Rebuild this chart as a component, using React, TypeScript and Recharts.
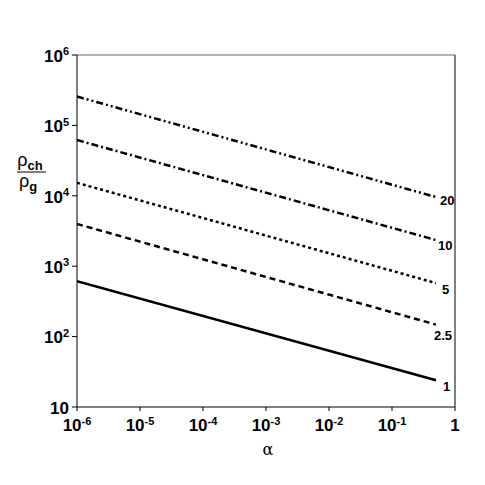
import React from 'react';
import { LineChart, Line, XAxis, YAxis, ReferenceLine } from 'recharts';

// alpha values at the two ends of each (straight on log-log) line
const alphaPoints = [1e-6, 0.5];
// rho_ch / rho_g for each parameter value
const series1 = [611, 24];
const series25 = [3980, 148];
const series5 = [15300, 575];
const series10 = [62000, 2350];
const series20 = [257000, 9600];
const seriesNames = ['1', '2.5', '5', '10', '20'];

const xTicks = [1e-6, 1e-5, 1e-4, 1e-3, 1e-2, 1e-1, 1];
const yTicks = [10, 100, 1000, 10000, 100000, 1000000];

const allSeries = [series1, series25, series5, series10, series20];
const keys = ['s1', 's25', 's5', 's10', 's20'];

const data = alphaPoints.map((a, i) => {
  const row: any = { alpha: a };
  keys.forEach((k, j) => {
    row[k] = allSeries[j][i];
  });
  return row;
});

const FONT = '"Liberation Sans", Arial, sans-serif';

const dashes = ['0', '6 4', '3 3', '7 3 2 3', '7 3 2 3 2 3'];
const labelOffsets = [
  { dx: 7, dy: 11 },
  { dx: -2, dy: 15 },
  { dx: 6, dy: 11 },
  { dx: 2, dy: 10 },
  { dx: 4, dy: 8 },
];

const XTick = (props: any) => {
  const { x, y, payload } = props;
  const e = Math.round(Math.log10(payload.value));
  return (
    <text x={x} y={y} textAnchor="middle" fontFamily={FONT} fontWeight="bold" fontSize={17} fill="#000">
      {e === 0 ? (
        <tspan dy="0.9em">1</tspan>
      ) : (
        <>
          <tspan dy="0.9em">10</tspan>
          <tspan dy="-0.55em" fontSize={11}>{String(e)}</tspan>
        </>
      )}
    </text>
  );
};

const YTick = (props: any) => {
  const { x, y, payload } = props;
  const e = Math.round(Math.log10(payload.value));
  return (
    <text x={x} y={y} textAnchor="end" fontFamily={FONT} fontWeight="bold" fontSize={17} fill="#000">
      {e === 1 ? (
        <tspan dy="0.4em">10</tspan>
      ) : (
        <>
          <tspan dy="0.4em">10</tspan>
          <tspan dy="-0.6em" fontSize={11}>{String(e)}</tspan>
        </>
      )}
    </text>
  );
};

const makeLabel = (idx: number) => (props: any) => {
  const { x, y, index } = props;
  if (index !== alphaPoints.length - 1) return <g />;
  const o = labelOffsets[idx];
  return (
    <text x={x + o.dx} y={y + o.dy} fontFamily={FONT} fontWeight="bold" fontSize={13} fill="#000">
      {seriesNames[idx]}
    </text>
  );
};

export default function App() {
  return (
    <div style={{ width: 477, height: 470, background: '#fff' }}>
      <LineChart width={477} height={470} data={data} margin={{ top: 47, right: 30, bottom: 41, left: 9 }}>
        <XAxis
          dataKey="alpha"
          type="number"
          scale="log"
          domain={[1e-6, 1]}
          ticks={xTicks}
          allowDataOverflow
          height={30}
          tickSize={4}
          tickMargin={5}
          stroke="#000"
          tick={<XTick />}
        />
        <YAxis
          type="number"
          scale="log"
          domain={[10, 1000000]}
          ticks={yTicks}
          allowDataOverflow
          width={60}
          tickSize={5}
          tickMargin={3}
          stroke="#000"
          tick={<YTick />}
        />
        <ReferenceLine y={1000000} stroke="#999" strokeWidth={1.5} />
        <ReferenceLine x={1} stroke="#000" strokeWidth={1} />
        {keys.map((k, i) => (
          <Line
            key={k}
            dataKey={k}
            stroke="#000"
            strokeWidth={2.5}
            strokeDasharray={dashes[i]}
            dot={false}
            activeDot={false}
            isAnimationActive={false}
            label={makeLabel(i)}
          />
        ))}
        <g>
          <text x={22} y={158} textAnchor="middle" fontFamily={FONT} fontSize={18} fill="#000">
            ρ<tspan dy="4" fontSize={13} fontWeight="bold">ch</tspan>
          </text>
          <line x1={9} x2={38} y1={164} y2={164} stroke="#000" strokeWidth={1} />
          <text x={20} y={179} textAnchor="middle" fontFamily={FONT} fontSize={18} fill="#000">
            ρ<tspan dy="4" fontSize={13} fontWeight="bold">g</tspan>
          </text>
          <text x={260} y={447} textAnchor="middle" fontFamily='"DejaVu Serif", "Liberation Serif", serif' fontSize={16} fill="#000">
            α
          </text>
        </g>
      </LineChart>
    </div>
  );
}
